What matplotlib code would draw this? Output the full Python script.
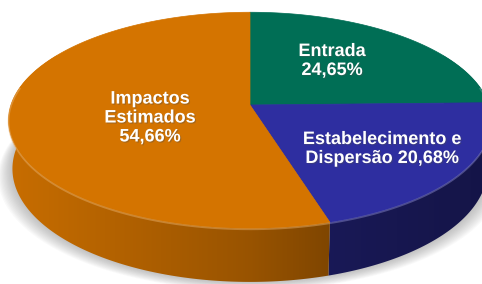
import numpy as np
import matplotlib.pyplot as plt
from matplotlib.colors import to_rgb
from matplotlib.patches import Polygon
import matplotlib.patheffects as pe

labels = ["Entrada\n24,65%", "Estabelecimento e\nDispersão 20,68%", "Impactos\nEstimados\n54,66%"]
shares = [24.65, 20.68, 54.66]
colors = ["#006E55", "#2E2EA0", "#D47400"]
label_pos = [(332, 61), (382, 149), (150, 118)]

# perspective view of a flat disk
CX, CY = 250, 105
D = 6.33
SIN, COS = 0.443, 0.896
F = 239 * D
H = 0.228


def proj(theta_deg, Y=0.0):
    t = np.radians(theta_deg)
    X = np.sin(t)
    Zf = -np.cos(t)
    u = Y * COS - Zf * SIN
    dist = D - (Zf * COS + Y * SIN)
    return CX + F * X / dist, CY - F * u / dist


fig = plt.figure(figsize=(4.82, 2.84), dpi=100)
ax = fig.add_axes([0, 0, 1, 1])
ax.set_xlim(0, 482)
ax.set_ylim(284, 0)
ax.axis("off")

bounds = np.concatenate([[0], np.cumsum(shares) / sum(shares) * 360])

# soft shadow
th = np.linspace(0, 360, 361)
bx, by = proj(th, -H)
for k in range(12, 0, -1):
    sx = CX + (bx - CX) * (1 + k * 0.005)
    sy = by + k * 0.7
    ax.fill(sx, sy, color="#707070", alpha=0.04, lw=0)

# side wall: one polygon per slice, filled with a left-to-right shading
xs = np.linspace(0, 482, 482)
shade = np.interp(xs, [0, 250, 330, 482], [0.95, 0.72, 0.6, 0.5])
for i in range(len(shares)):
    lo, hi = max(bounds[i], 60), min(bounds[i + 1], 300)
    if hi <= lo:
        continue
    ts = np.linspace(lo, hi, 200)
    tx, ty = proj(ts)
    bx2, by2 = proj(ts[::-1], -H)
    poly = Polygon(np.c_[np.r_[tx, bx2], np.r_[ty, by2]], closed=True,
                   fc="none", ec="none")
    ax.add_patch(poly)
    base = np.array(to_rgb(colors[i]))
    f = shade * (0.9 if i == 1 else 1.0)
    img = np.clip(base[None, None, :] * f[None, :, None], 0, 1)
    im = ax.imshow(img, extent=(0, 482, 284, 0), aspect="auto",
                   interpolation="bilinear", zorder=1)
    im.set_clip_path(poly)

# top face
for i in range(len(shares)):
    ts = np.linspace(bounds[i], bounds[i + 1], 200)
    px, py = proj(ts)
    ax.fill(np.r_[CX, px], np.r_[CY, py], color=colors[i], lw=0.5,
            ec=colors[i], zorder=2)

# bevel highlight along the front edge
for i in range(len(shares)):
    lo, hi = max(bounds[i], 80), min(bounds[i + 1], 280)
    if hi <= lo:
        continue
    ts = np.linspace(lo, hi, 100)
    px, py = proj(ts)
    light = np.array(to_rgb(colors[i])) * 0.6 + 0.4
    ax.plot(px, py + 1, color=light, lw=1.2, alpha=0.5,
            solid_capstyle="butt", zorder=3)

for lab, (x, y) in zip(labels, label_pos):
    ax.text(x, y, lab, ha="center", va="center", color="white",
            fontsize=13, fontweight="bold", family="Liberation Sans",
            linespacing=1.15, zorder=4,
            path_effects=[pe.withSimplePatchShadow(offset=(0.8, -0.8), alpha=0.35)])

ax.set_xlim(0, 482)
ax.set_ylim(284, 0)
fig.savefig("out.png", dpi=100)
